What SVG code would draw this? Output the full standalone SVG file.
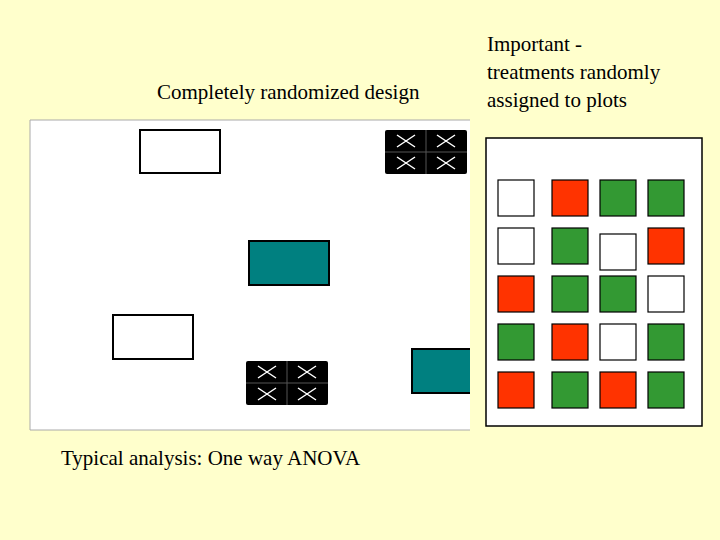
<svg xmlns="http://www.w3.org/2000/svg" width="720" height="540" viewBox="0 0 720 540">
<style>
text{font-family:"Liberation Serif",serif;font-size:21px;fill:#000}
.w{fill:#fff;stroke:#000;stroke-width:2}
.t{fill:#008080;stroke:#000;stroke-width:2}
.r{fill:#ff3300;stroke:#000;stroke-width:1.2}
.g{fill:#339933;stroke:#000;stroke-width:1.2}
.s{fill:#fff;stroke:#000;stroke-width:1.2}
.x{stroke:#fff;stroke-width:1.5;fill:none}
</style>
<defs>
<clipPath id="c"><rect x="30" y="120" width="440" height="310"/></clipPath>
<g id="xb">
<rect x="0" y="0" width="82" height="44" rx="2" fill="#000"/>
<path d="M41 0V44M0 22H82" stroke="#555" stroke-width="1"/>
<path class="x" d="M12 5L30 17M30 5L12 17M52 5L70 17M70 5L52 17M12 27L30 39M30 27L12 39M52 27L70 39M70 27L52 39"/>
</g>
</defs>
<rect width="720" height="540" fill="#ffffcc"/>
<text x="157" y="99">Completely randomized design</text>
<text x="487" y="51">Important -</text>
<text x="487" y="79">treatments randomly</text>
<text x="487" y="107">assigned to plots</text>
<text x="61" y="465">Typical analysis: One way ANOVA</text>
<g id="field">
<rect x="30" y="120" width="440" height="310" fill="#fff"/>
<path d="M470 120H30V430H470" fill="none" stroke="#aaa" stroke-width="1"/>
<g clip-path="url(#c)">
<rect class="w" x="140" y="130" width="80" height="43"/>
<use href="#xb" x="385" y="130"/>
<rect class="t" x="249" y="241" width="80" height="44"/>
<rect class="w" x="113" y="315" width="80" height="44"/>
<use href="#xb" x="246" y="361"/>
<rect class="t" x="412" y="349" width="80" height="44"/>
</g>
</g>
<g id="plots">
<rect x="486" y="138" width="216" height="288" fill="#fff" stroke="#000" stroke-width="1.5"/>
<rect class="s" x="498" y="180" width="36" height="36"/>
<rect class="r" x="552" y="180" width="36" height="36"/>
<rect class="g" x="600" y="180" width="36" height="36"/>
<rect class="g" x="648" y="180" width="36" height="36"/>
<rect class="s" x="498" y="228" width="36" height="36"/>
<rect class="g" x="552" y="228" width="36" height="36"/>
<rect class="s" x="600" y="234" width="36" height="36"/>
<rect class="r" x="648" y="228" width="36" height="36"/>
<rect class="r" x="498" y="276" width="36" height="36"/>
<rect class="g" x="552" y="276" width="36" height="36"/>
<rect class="g" x="600" y="276" width="36" height="36"/>
<rect class="s" x="648" y="276" width="36" height="36"/>
<rect class="g" x="498" y="324" width="36" height="36"/>
<rect class="r" x="552" y="324" width="36" height="36"/>
<rect class="s" x="600" y="324" width="36" height="36"/>
<rect class="g" x="648" y="324" width="36" height="36"/>
<rect class="r" x="498" y="372" width="36" height="36"/>
<rect class="g" x="552" y="372" width="36" height="36"/>
<rect class="r" x="600" y="372" width="36" height="36"/>
<rect class="g" x="648" y="372" width="36" height="36"/>
</g>
</svg>
